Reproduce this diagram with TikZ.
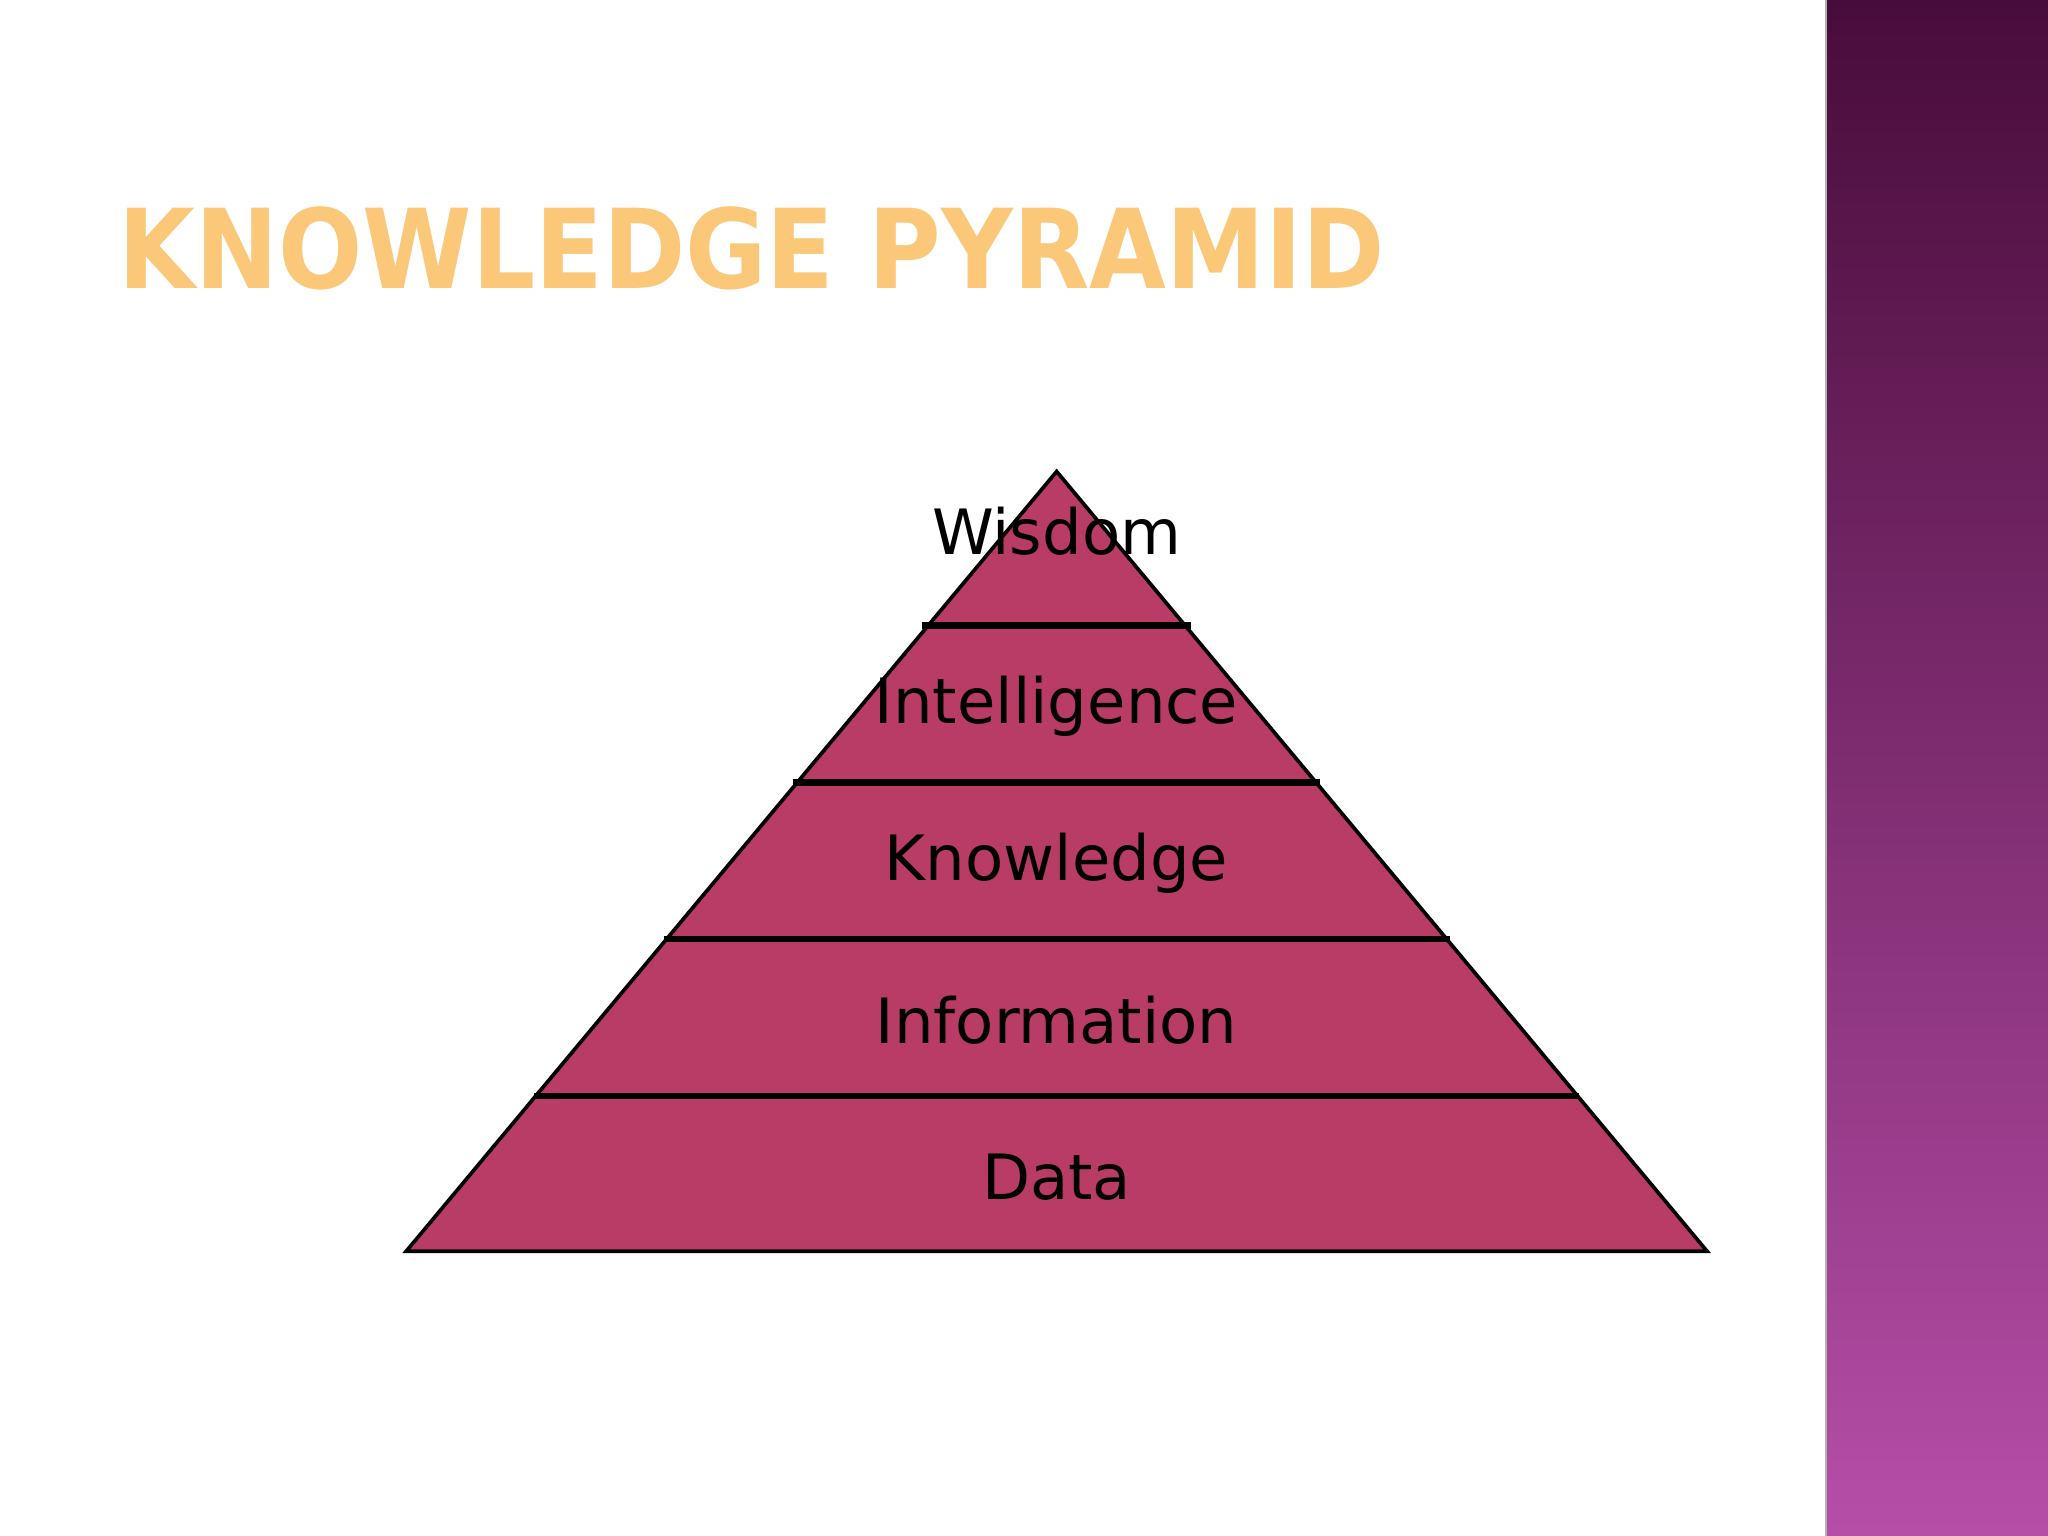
\documentclass[tikz,border=0pt]{standalone}
\usepackage{fontspec}
\setmainfont{DejaVu Sans}
\newfontfamily\titlefont{DejaVu Sans Condensed}[FakeBold=0]
\begin{document}
\begin{tikzpicture}[x=0.01cm,y=-0.01cm,
  lvl/.style={font=\fontsize{13.6pt}{16pt}\selectfont, text=black},
  sep/.style={line width=1.4pt}]
\useasboundingbox (0,0) rectangle (1568,1176);
\fill[white] (0,0) rectangle (1568,1176);
\shade[top color={rgb,255:red,72;green,12;blue,58}, bottom color={rgb,255:red,182;green,78;blue,168}] (1398,0) rectangle (1568,1176);
\draw[gray!60, line width=0.5pt] (1398,0) -- (1398,1176);
\node[anchor=base west, inner sep=0, font=\titlefont\bfseries\fontsize{24pt}{28pt}\selectfont, text={rgb,255:red,250;green,200;blue,120}] (title) at (90,221) {KNOWLEDGE PYRAMID};
\coordinate (apex) at (809,361);
\coordinate (bl) at (311,958);
\coordinate (br) at (1307,958);
\draw[fill={rgb,255:red,184;green,60;blue,102}, line width=0.8pt] (apex) -- (br) -- (bl) -- cycle;
\foreach \y/\l/\r/\n in {479/706/912/a, 599/607/1011/b, 719/508/1110/c, 839/409/1209/d}{
  \coordinate (l\n) at (\l,\y); \coordinate (r\n) at (\r,\y);
  \draw[sep] (l\n) -- (r\n);
}
\node[lvl] (wis) at (809,407) {Wisdom};
\node[lvl] (int) at (809,541) {Intelligence};
\node[lvl] (kno) at (809,661) {Knowledge};
\node[lvl] (inf) at (809,781) {Information};
\node[lvl] (dat) at (809,901) {Data};
\end{tikzpicture}
\end{document}
